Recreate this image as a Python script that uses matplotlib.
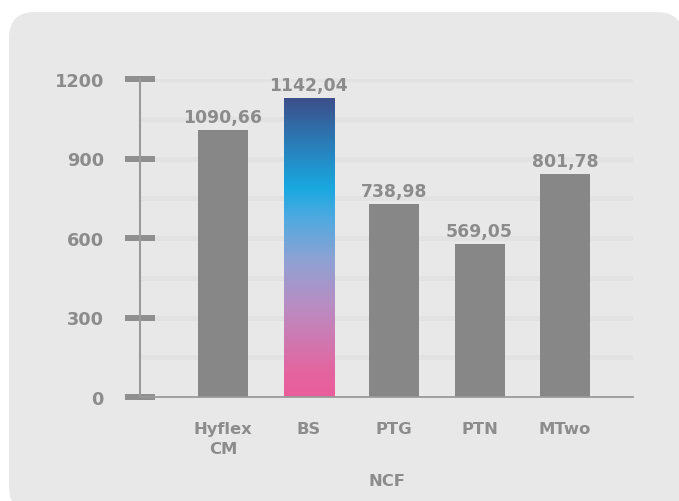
import numpy as np
import matplotlib.pyplot as plt
import matplotlib.patches as mpatches
from matplotlib.colors import LinearSegmentedColormap
from matplotlib.transforms import IdentityTransform

# data
categories = ["Hyflex\nCM", "BS", "PTG", "PTN", "MTwo"]
bar_heights = [1009, 1128, 728, 577, 842]          # drawn height of each bar
value_labels = ["1090,66", "1142,04", "738,98", "569,05", "801,78"]
y_ticks = [0, 300, 600, 900, 1200]
x_title = "NCF"

GREY_TEXT = "#8c8c8c"
BAR_GREY = "#878787"
PANEL = "#e8e8e8"
GRID = "#e2e2e2"

# gradient for the highlighted bar, bottom -> top
grad = LinearSegmentedColormap.from_list("bs", [
    (0.00, "#ea5d9b"), (0.08, "#e4649f"), (0.30, "#ba8cc2"),
    (0.46, "#8ea2d4"), (0.60, "#4eaae0"), (0.70, "#19a8e0"),
    (0.85, "#2a7db8"), (1.00, "#3c4e89")])

W, H = 679, 502
fig = plt.figure(figsize=(W / 100, H / 100), dpi=100, facecolor="white")

# rounded grey panel behind everything (pixel coordinates)
panel = mpatches.FancyBboxPatch((9, -12), 674, 489 + 12,
                                boxstyle="round,pad=0,rounding_size=26",
                                transform=IdentityTransform(),
                                facecolor=PANEL, edgecolor="none", zorder=-5)
fig.patches.append(panel)

left, right, bottom, top = 140, 633, 398, 80
ax = fig.add_axes([left / W, (H - bottom) / H, (right - left) / W, (bottom - top) / H])
ax.patch.set_alpha(0.0)

x = np.arange(len(categories))
width = 0.585

# light horizontal bands every 150
for yv in np.arange(150, 1201, 150):
    ax.axhline(yv, color=GRID, lw=3.6, zorder=0.5)

for i, (xi, h) in enumerate(zip(x, bar_heights)):
    if categories[i] == "BS":
        img = np.linspace(0, 1, 256).reshape(-1, 1)
        ax.imshow(img, cmap=grad, origin="lower", aspect="auto",
                  extent=(xi - width / 2, xi + width / 2, 0, h), zorder=2)
    else:
        ax.bar(xi, h, width=width, color=BAR_GREY, zorder=2)
    ax.annotate(value_labels[i], (xi, h), xytext=(0, 5.5), textcoords="offset points",
                ha="center", va="baseline", fontsize=12.4, fontweight="bold",
                color=GREY_TEXT, zorder=3)
ax.set_xlim(-0.971, 4.795)
ax.set_ylim(0, 1200)

for s in ["top", "right"]:
    ax.spines[s].set_visible(False)
ax.spines["left"].set_color("#9a9a9a")
ax.spines["left"].set_linewidth(1.5)
ax.spines["bottom"].set_color("#9a9a9a")
ax.spines["bottom"].set_linewidth(1.3)

ax.set_yticks(y_ticks)
ax.set_yticklabels([str(v) for v in y_ticks])
ax.tick_params(axis="y", direction="inout", length=21, width=4.3, color="#8f8f8f",
               pad=15.5, labelsize=12.8, labelcolor=GREY_TEXT)
for lab in ax.get_yticklabels():
    lab.set_fontweight("bold")

ax.set_xticks(x)
ax.set_xticklabels(categories, fontsize=11.8, fontweight="bold", color=GREY_TEXT,
                   linespacing=1.45)
ax.tick_params(axis="x", length=0, pad=17)
ax.set_xlabel(x_title, fontsize=11.8, fontweight="bold", color=GREY_TEXT, labelpad=12)

fig.savefig("out.png", dpi=100, facecolor="white")
